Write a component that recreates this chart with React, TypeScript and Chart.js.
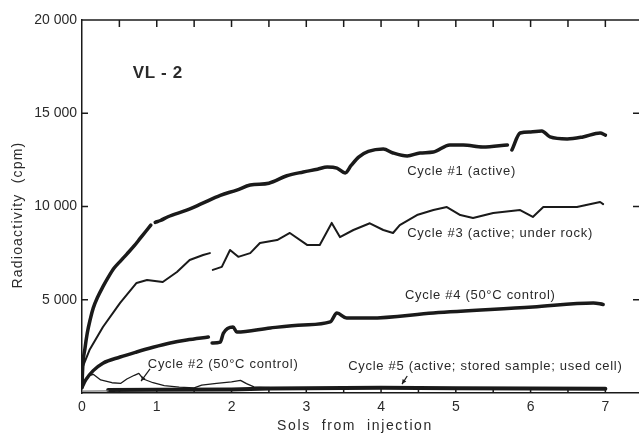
import React, { useEffect, useRef } from "react";
import { Chart, registerables } from "chart.js";

Chart.register(...registerables);

// Sols from injection, radioactivity (cpm); null = gap in trace
const cycle1: [number, number | null][] = [
  [0.0, 300], [0.01, 1400], [0.04, 2400], [0.07, 3200], [0.11, 3950], [0.15, 4550],
  [0.21, 5150], [0.28, 5700], [0.35, 6200], [0.43, 6700], [0.52, 7100], [0.6, 7450],
  [0.7, 7900], [0.78, 8300], [0.86, 8700], [0.92, 9000], [0.95, null], [0.98, 9150],
  [1.05, 9250], [1.15, 9450], [1.4, 9800], [1.6, 10150], [1.85, 10600], [2.07, 10880],
  [2.25, 11150], [2.5, 11250], [2.74, 11650], [2.96, 11850], [3.15, 12000], [3.28, 12120],
  [3.41, 12060], [3.52, 11800], [3.6, 12200], [3.7, 12650], [3.83, 12950], [4.03, 13080],
  [4.16, 12870], [4.35, 12710], [4.52, 12870], [4.7, 12920], [4.92, 13300], [5.1, 13300],
  [5.36, 13190], [5.69, 13300], [5.72, null], [5.75, 13030], [5.86, 13940], [6.0, 14000],
  [6.15, 14050], [6.26, 13730], [6.49, 13620], [6.7, 13730], [6.93, 13940], [7.0, 13830],
];

const cycle3: [number, number | null][] = [
  [0.0, 500], [0.01, 1400], [0.1, 2300], [0.28, 3540], [0.51, 4830], [0.73, 5900],
  [0.87, 6060], [1.08, 5950], [1.27, 6490], [1.44, 7130], [1.62, 7400], [1.71, 7500],
  [1.73, null], [1.75, 6600], [1.87, 6760], [1.98, 7670], [2.09, 7300], [2.25, 7500],
  [2.38, 8040], [2.61, 8200], [2.78, 8580], [3.01, 7940], [3.18, 7940], [3.34, 9120],
  [3.45, 8360], [3.63, 8740], [3.85, 9100], [4.03, 8740], [4.16, 8580], [4.25, 9000],
  [4.48, 9540], [4.7, 9810], [4.88, 9970], [5.06, 9540], [5.23, 9380], [5.5, 9650],
  [5.86, 9810], [6.03, 9440], [6.17, 9970], [6.62, 9970], [6.93, 10240], [6.97, 10130],
];

const cycle4: [number, number | null][] = [
  [0.0, 300], [0.05, 700], [0.15, 1200], [0.28, 1600], [0.51, 1930], [0.73, 2200],
  [0.95, 2450], [1.18, 2680], [1.4, 2840], [1.69, 3000], [1.71, null], [1.74, 2680],
  [1.85, 2730], [1.89, 3200], [2.02, 3540], [2.07, 3270], [2.52, 3490], [2.96, 3650],
  [3.32, 3810], [3.41, 4290], [3.54, 4020], [3.85, 4020], [4.7, 4290], [6.03, 4610],
  [6.84, 4830], [6.97, 4750],
];

const cycle2: [number, number | null][] = [
  [0.0, 300], [0.08, 900], [0.15, 1000], [0.25, 700], [0.4, 550], [0.52, 520],
  [0.6, 750], [0.7, 950], [0.76, 1050], [0.82, 750], [0.95, 550], [1.1, 400],
  [1.3, 320], [1.5, 280], [1.6, 420], [1.8, 520], [2.0, 600], [2.12, 680],
  [2.2, 500], [2.3, 330], [2.6, 280], [3.0, 260], [4.0, 260], [5.0, 250], [6.0, 250], [7.0, 250],
];

const cycle5: [number, number | null][] = [
  [0.35, 160], [1.0, 170], [2.0, 190], [2.5, 240], [3.0, 260], [3.5, 270],
  [4.0, 280], [4.5, 270], [5.0, 250], [6.0, 240], [7.0, 230],
];

const cycle5Lead: [number, number | null][] = [
  [0.0, 100], [0.35, 110],
];

const xTickLabels = [0, 1, 2, 3, 4, 5, 6, 7];
const yTickLabels = ["", "5 000", "10 000", "15 000", "20 000"];

const labels = [
  { text: "VL - 2", x: 0.68, y: 17160, font: 'bold 17px "Liberation Sans"', sp: "0.6px" },
  { text: "Cycle #1 (active)", x: 4.35, y: 11900 },
  { text: "Cycle #3 (active; under rock)", x: 4.35, y: 8580 },
  { text: "Cycle #4 (50°C control)", x: 4.32, y: 5250 },
  { text: "Cycle #2 (50°C control)", x: 0.88, y: 1550 },
  { text: "Cycle #5 (active; stored sample; used cell)", x: 3.56, y: 1450 },
];

const arrows = [
  { x1: 0.91, y1: 1290, x2: 0.79, y2: 640 },
  { x1: 4.35, y1: 910, x2: 4.28, y2: 480 },
];

const toXY = (arr: [number, number | null][]) => arr.map(([x, y]) => ({ x, y }));

const INK = "#1a1a1a";
const TEXT = "#2a2a2a";

export default function App() {
  const ref = useRef<HTMLCanvasElement | null>(null);

  useEffect(() => {
    if (!ref.current) return;

    const decor = {
      id: "decor",
      afterDraw(chart: any) {
        const { ctx, chartArea: a, scales } = chart;
        const xs = scales.x;
        const ys = scales.y;
        ctx.save();
        ctx.strokeStyle = INK;
        ctx.lineWidth = 1.5;
        ctx.beginPath();
        ctx.moveTo(a.left, a.top);
        ctx.lineTo(a.right, a.top);
        ctx.stroke();
        for (let v = 0.5; v <= 7.01; v += 0.5) {
          const px = xs.getPixelForValue(v);
          ctx.beginPath();
          ctx.moveTo(px, a.top);
          ctx.lineTo(px, a.top + 7);
          ctx.moveTo(px, a.bottom);
          ctx.lineTo(px, a.bottom - 5);
          ctx.stroke();
        }
        for (let v = 5000; v <= 15000; v += 5000) {
          const py = ys.getPixelForValue(v);
          ctx.beginPath();
          ctx.moveTo(a.left, py);
          ctx.lineTo(a.left + 6, py);
          ctx.moveTo(a.right, py);
          ctx.lineTo(a.right - 6, py);
          ctx.stroke();
        }
        ctx.fillStyle = TEXT;
        ctx.textBaseline = "middle";
        ctx.textAlign = "left";
        for (const l of labels) {
          (ctx as any).letterSpacing = (l as any).sp || "0.7px";
          ctx.font = (l as any).font || '13px "Liberation Sans"';
          ctx.fillText(l.text, xs.getPixelForValue(l.x), ys.getPixelForValue(l.y));
        }
        ctx.lineWidth = 1.2;
        for (const ar of arrows) {
          const x1 = xs.getPixelForValue(ar.x1), y1 = ys.getPixelForValue(ar.y1);
          const x2 = xs.getPixelForValue(ar.x2), y2 = ys.getPixelForValue(ar.y2);
          ctx.beginPath();
          ctx.moveTo(x1, y1);
          ctx.lineTo(x2, y2);
          ctx.stroke();
          const ang = Math.atan2(y2 - y1, x2 - x1);
          ctx.beginPath();
          ctx.moveTo(x2, y2);
          ctx.lineTo(x2 - 5 * Math.cos(ang - 0.45), y2 - 5 * Math.sin(ang - 0.45));
          ctx.lineTo(x2 - 5 * Math.cos(ang + 0.45), y2 - 5 * Math.sin(ang + 0.45));
          ctx.closePath();
          ctx.fillStyle = INK;
          ctx.fill();
        }
        ctx.fillStyle = TEXT;
        ctx.font = '14px "Liberation Sans"';
        (ctx as any).letterSpacing = "1.6px";
        ctx.textAlign = "center";
        ctx.fillText("Sols  from  injection", 355, 426);
        (ctx as any).letterSpacing = "1.2px";
        ctx.translate(18, 215);
        ctx.rotate(-Math.PI / 2);
        ctx.fillText("Radioactivity  (cpm)", 0, 0);
        ctx.restore();
      },
    };

    const mk = (data: [number, number | null][], w: number, smooth = false, color = INK) => ({
      data: toXY(data),
      borderColor: color,
      borderWidth: w,
      pointRadius: 0,
      tension: 0,
      cubicInterpolationMode: smooth ? ("monotone" as const) : ("default" as const),
      spanGaps: false,
      borderJoinStyle: "round" as const,
      borderCapStyle: "round" as const,
      fill: false,
    });

    const chart = new Chart(ref.current, {
      type: "line",
      data: {
        datasets: [
          mk(cycle1, 3.5, true),
          mk(cycle3, 2),
          mk(cycle4, 3.5, true),
          mk(cycle2, 1.3),
          mk(cycle5Lead, 1.2, false, "#777"),
          mk(cycle5, 4),
        ],
      },
      options: {
        animation: false,
        responsive: false,
        parsing: false as any,
        layout: { padding: { top: 20, left: 0, right: 0, bottom: 0 } },
        plugins: { legend: { display: false }, tooltip: { enabled: false } },
        scales: {
          x: {
            type: "linear",
            min: 0,
            max: 7.45,
            grid: { display: false, drawTicks: false },
            border: { display: true, color: INK, width: 1.5 },
            afterFit: (s: any) => { s.height = 41; },
            afterBuildTicks: (s: any) => { s.ticks = xTickLabels.map((v) => ({ value: v })); },
            ticks: {
              padding: 6,
              color: TEXT,
              font: { family: "Liberation Sans", size: 14 },
              callback: (v: any) => String(v),
            },
          },
          y: {
            type: "linear",
            min: 0,
            max: 20000,
            grid: { display: false, drawTicks: false },
            border: { display: true, color: INK, width: 1.5 },
            afterFit: (s: any) => { s.width = 82; },
            afterBuildTicks: (s: any) => { s.ticks = yTickLabels.map((_, i) => ({ value: i * 5000 })); },
            ticks: {
              padding: 5,
              color: TEXT,
              font: { family: "Liberation Sans", size: 14 },
              callback: (_v: any, i: number) => yTickLabels[i],
            },
          },
        },
      },
      plugins: [decor],
    });
    return () => chart.destroy();
  }, []);

  return (
    <div style={{ position: "fixed", left: 0, top: 0, width: 639, height: 434, background: "#fff" }}>
      <canvas ref={ref} width={639} height={434} style={{ display: "block" }} />
    </div>
  );
}
